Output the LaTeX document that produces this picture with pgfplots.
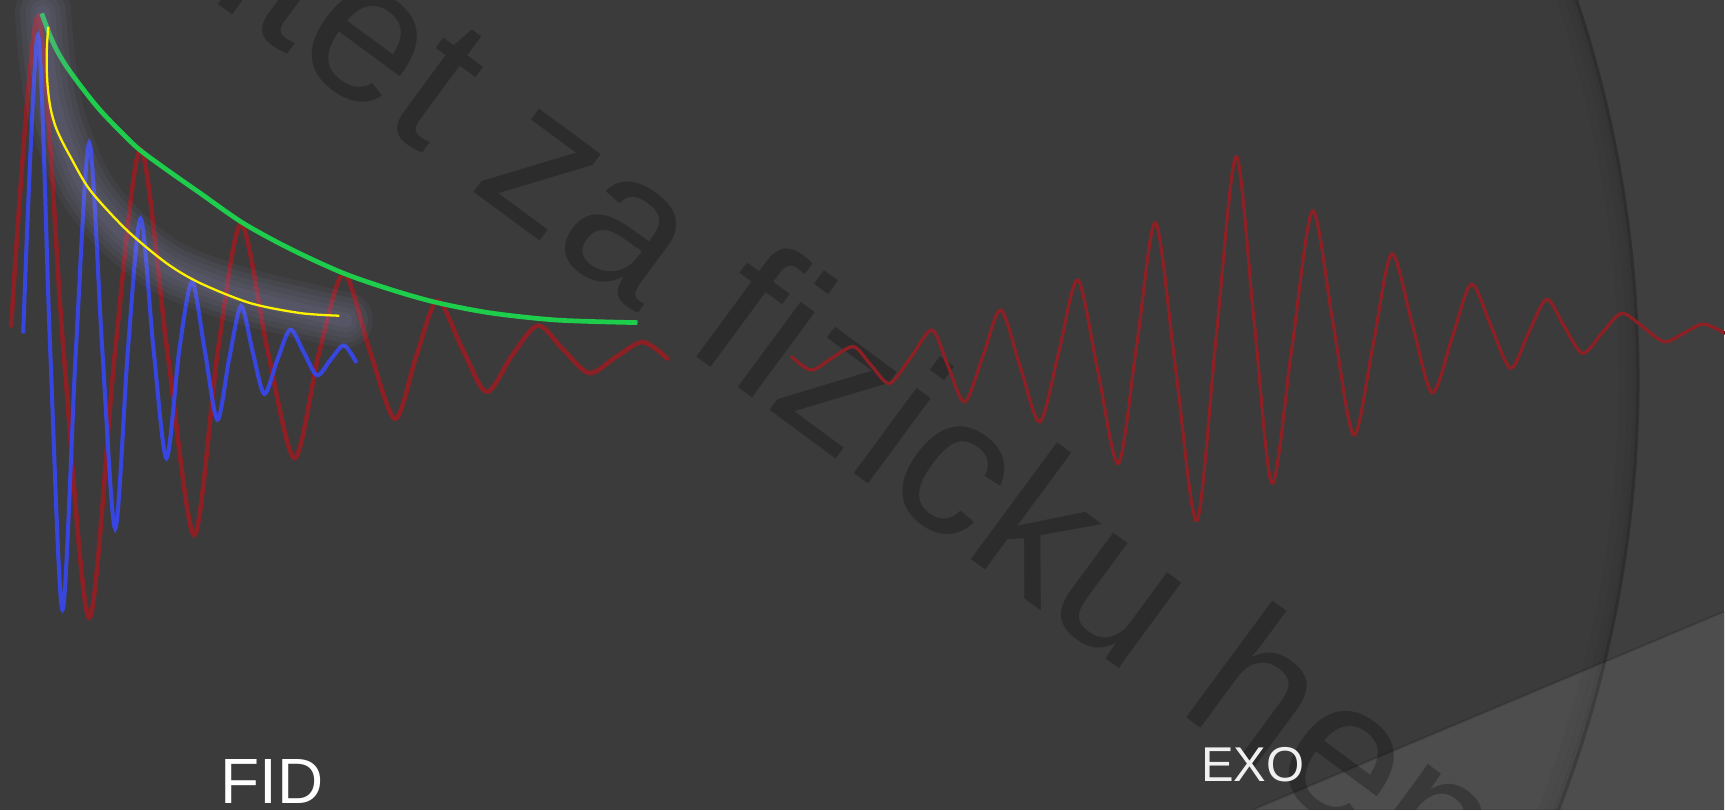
\documentclass[border=0pt]{standalone}
\usepackage{pgfplots}
\pgfplotsset{compat=1.18}
\usepackage{fontspec}
\setmainfont{Liberation Sans}
\definecolor{bgin}{RGB}{59,59,59}
\definecolor{bgout}{RGB}{63,63,63}
\definecolor{lightbg}{RGB}{77,77,77}
\definecolor{fidred}{RGB}{140,32,36}
\definecolor{fidblue}{RGB}{55,70,225}
\definecolor{envgreen}{RGB}{30,205,75}
\definecolor{glow}{RGB}{155,150,205}

\begin{document}
\begin{tikzpicture}
% slide background, 1 unit = 1 px, y downwards
\begin{scope}[x=0.01cm,y=-0.01cm,yshift=8.1cm]
  \clip (0,0) rectangle (1725,810);
  \fill[bgout] (0,0) rectangle (1725,810);
  \fill[bgin] (440,380) circle[radius=1200];
  \fill[lightbg] (1254,810) -- (1725,612) -- (1725,810) -- cycle;
  \draw[black,opacity=0.03,line width=0.09cm] (440,380) circle[radius=1184];
  \draw[black,opacity=0.05,line width=0.06cm] (440,380) circle[radius=1191];
  \draw[black,opacity=0.09,line width=0.04cm] (440,380) circle[radius=1196];
  \draw[black,opacity=0.2,line width=0.03cm] (440,380) circle[radius=1199];
  \draw[black,opacity=0.15,line width=0.02cm] (1254,810) -- (1725,612);
  \node[rotate=-36.4,anchor=base west,inner sep=0,outer sep=0,text=black,text opacity=0.25,
        font=\fontsize{57}{57}\selectfont] at (468,188) {\llap{Fakultet\ }za fizicku hemiju};
  \node[anchor=base west,inner sep=0,text=white,font=\fontsize{18.2}{18.2}\selectfont] at (220,804) {FID};
  \node[anchor=base west,inner sep=0,text={rgb,255:red,240;green,240;blue,240},font=\fontsize{13.9}{13.9}\selectfont] at (1201,782) {EXO};
\end{scope}

\begin{axis}[
  at={(0,0)}, anchor=south west,
  width=17.25cm, height=8.1cm, scale only axis,
  hide axis,
  xmin=0, xmax=1725,
  ymin=0, ymax=810,
  y dir=reverse,
  clip=true,
]

% FID, slow
\addplot[fidred, line width=1.28pt, smooth, line cap=round] coordinates {
(11.2,325.5) (37.9,16.6) (63.6,352) (89.3,617.7) (115,352) (140.6,149.3)
(167.4,352) (194.2,534.8) (217.7,352) (241.1,223.9) (267.9,352) (294.6,458.1)
(319.2,352) (343.8,273.6) (369.5,350) (395.1,418.7) (416.3,356) (437.5,300.6)
(462,348) (486.6,391.8) (512.3,355) (537.9,325.5) (563.6,350) (589.3,373.1)
(616,357) (642.9,342.0) (667.4,358.6)
};

% FID, fast
\addplot[fidblue, line width=1.14pt, smooth, line cap=round] coordinates {
(23.2,331.7) (37.9,35.2) (50.2,350) (62.5,609.5) (75.9,350) (89.3,143.0)
(102.3,350) (115.2,528.6) (127.9,350) (140.6,218.5) (153.6,350) (166.5,458.1)
(179.3,350) (192.0,281.9) (204.7,350) (217.4,419.6) (229.3,358) (241.1,306.0)
(252.7,352) (264.3,393.9) (277.3,360) (290.2,329.6) (303.6,352) (317.0,375.2)
(330.4,360) (343.8,345.4) (355.8,361.5)
};

% T2 envelope
\addplot[envgreen, line width=1.34pt, smooth] coordinates {
(41.7,13.3) (49,33) (56.7,50) (66.7,66.7) (83,89) (100,110) (120,131) (140,150)
(170,172) (200,193) (243,223) (290.2,248.8) (343,273) (392.9,290.2)
(437.5,302.7) (491.1,313.0) (558,320.1) (637.5,322.6)
};

% glow
\addplot[glow, opacity=0.07, line width=16pt, smooth, line cap=round] coordinates {
(43,12) (47,60) (57,117) (83,183) (117,227) (167,267) (233,293) (300,310) (345,320)
};
\addplot[glow, opacity=0.07, line width=13pt, smooth, line cap=round] coordinates {
(43,12) (47,60) (57,117) (83,183) (117,227) (167,267) (233,293) (300,310) (345,320)
};
\addplot[glow, opacity=0.07, line width=10pt, smooth, line cap=round] coordinates {
(43,12) (47,60) (57,117) (83,183) (117,227) (167,267) (233,293) (300,310) (345,320)
};
\addplot[glow, opacity=0.07, line width=7pt, smooth, line cap=round] coordinates {
(43,12) (47,60) (57,117) (83,183) (117,227) (167,267) (233,293) (300,310) (345,320)
};
\addplot[glow, opacity=0.07, line width=4pt, smooth, line cap=round] coordinates {
(43,12) (47,60) (57,117) (83,183) (117,227) (167,267) (233,293) (300,310) (345,320)
};

% T2* envelope
\addplot[yellow, line width=0.65pt, smooth] coordinates {
(48.3,26.7) (47,45) (46.7,66.7) (47.8,88) (50.5,108) (55,125) (61,139) (70,156)
(90,190) (126.7,230) (166.7,263.3) (200,283) (250,303) (300,313) (339.3,315.7)
};

% echo
\addplot[fidred, line width=0.91pt, smooth, line cap=round] coordinates {
(791.5,356.7) (811.1,370) (832,358) (853.6,346.7) (871,365) (889.6,383.3)
(911,357) (932.1,330) (948,366) (964.7,401.7) (983,356) (1000.7,310)
(1020,366) (1039.9,421.7) (1059,351) (1077.8,280) (1098,372) (1118.4,463.3)
(1137,343) (1155.6,222.7) (1176,372) (1196.8,520.7) (1216,339) (1236.0,156.7)
(1254,320) (1272.0,483.3) (1292,347) (1312.5,211) (1333,323) (1353.7,435)
(1373,345) (1391.6,254) (1412,323) (1432.1,392.7) (1452,338) (1471.3,284.3)
(1491,326) (1510.6,368.3) (1528,334) (1546.5,299.3) (1564,326) (1582.5,353.3)
(1602,333) (1621.7,313.3) (1643,327) (1664.2,341.7) (1684,333) (1703.4,324)
(1725,333.3)
};

\end{axis}
\pgfresetboundingbox
\path[use as bounding box] (0,0) rectangle (17.25cm,8.1cm);
\end{tikzpicture}
\end{document}
